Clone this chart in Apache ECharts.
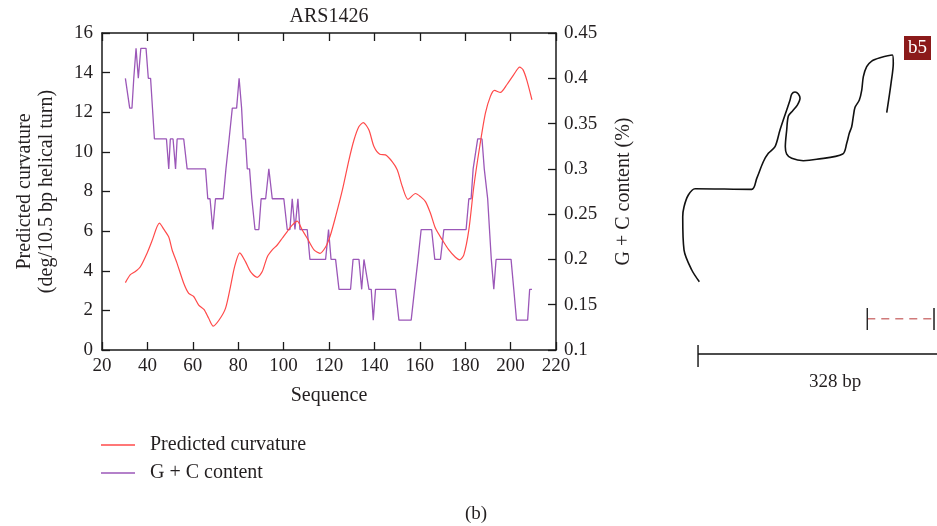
<!DOCTYPE html>
<html>
<head>
<meta charset="utf-8">
<script src="https://cdn.jsdelivr.net/npm/echarts@6/dist/echarts.min.js"></script>
<style>html,body{margin:0;padding:0;background:#fff}#c{width:937px;height:526px}</style>
</head>
<body>
<div id="c"></div>
<script>
// ---- Data ----
const chartTitle = 'ARS1426';
const xTicks = [20, 40, 60, 80, 100, 120, 140, 160, 180, 200, 220];
const curvTicks = [0, 2, 4, 6, 8, 10, 12, 14, 16];
const gcTicks = [0.1, 0.15, 0.2, 0.25, 0.3, 0.35, 0.4, 0.45];

// Predicted curvature (deg/10.5 bp helical turn)
const curvSeq = [30.3, 32.5, 34.7, 36.9, 39.9, 42.0, 45.3, 47.2, 49.4, 50.9, 53.0, 56.0, 58.2, 60.4, 62.6, 64.9, 67.0, 69.0, 71.5, 74.4, 76.6, 78.4, 80.7, 83.2, 85.4, 88.4, 90.6, 92.8, 95.0, 97.2, 99.4, 101.6, 103.8, 106.0, 108.2, 110.4, 113.4, 116.0, 118.5, 120.5, 122.9, 125.9, 128.8, 131.0, 133.2, 135.1, 137.6, 139.8, 142.4, 144.9, 147.9, 150.1, 152.3, 154.8, 158.1, 160.3, 162.5, 164.7, 166.9, 169.9, 172.8, 175.7, 177.6, 179.4, 181.6, 183.8, 186.4, 188.9, 191.1, 192.9, 195.5, 198.4, 201.4, 204.0, 205.5, 207.2, 209.4];
const curvVal = [3.4, 3.8, 3.96, 4.2, 4.9, 5.5, 6.4, 6.1, 5.7, 5.05, 4.4, 3.37, 2.86, 2.7, 2.27, 2.05, 1.6, 1.21, 1.5, 2.1, 3.2, 4.2, 4.9, 4.46, 3.96, 3.67, 3.96, 4.7, 5.05, 5.3, 5.64, 5.98, 6.3, 6.5, 6.06, 5.64, 5.05, 4.88, 5.2, 5.75, 6.73, 8.08, 9.6, 10.6, 11.28, 11.48, 11.1, 10.27, 9.88, 9.85, 9.5, 9.09, 8.25, 7.6, 7.9, 7.74, 7.49, 6.9, 6.14, 5.56, 5.05, 4.68, 4.55, 4.8, 6.06, 8.25, 10.27, 11.95, 12.8, 13.1, 13.0, 13.4, 13.9, 14.28, 14.14, 13.6, 12.63];

// G + C content (fraction)
const gcSeq = [30.3, 31.0, 32.2, 33.2, 34.0, 35.0, 36.0, 37.1, 39.4, 40.4, 41.4, 43.1, 48.4, 49.4, 50.1, 51.3, 52.4, 53.1, 56.0, 57.5, 65.6, 66.6, 67.6, 68.8, 70.0, 73.4, 74.6, 75.3, 76.0, 77.4, 79.3, 80.4, 81.5, 82.2, 83.2, 84.0, 85.0, 86.0, 87.4, 89.1, 90.1, 92.1, 93.5, 94.1, 95.0, 100.1, 101.6, 102.8, 103.8, 105.0, 106.3, 107.2, 110.4, 111.6, 118.5, 119.8, 120.9, 122.9, 124.4, 129.5, 130.6, 133.2, 134.4, 135.4, 136.1, 137.6, 138.6, 139.5, 140.5, 149.3, 150.8, 156.2, 157.7, 159.2, 160.6, 165.2, 166.6, 169.1, 170.6, 180.4, 181.6, 182.6, 183.5, 184.2, 185.5, 187.4, 188.4, 189.9, 190.7, 191.5, 192.6, 193.6, 200.2, 201.4, 202.6, 207.5, 208.4, 209.4];
const gcVal = [0.400, 0.400, 0.367, 0.367, 0.400, 0.433, 0.400, 0.433, 0.433, 0.400, 0.400, 0.333, 0.333, 0.300, 0.333, 0.333, 0.300, 0.333, 0.333, 0.300, 0.300, 0.267, 0.267, 0.233, 0.267, 0.267, 0.300, 0.300, 0.333, 0.367, 0.367, 0.400, 0.367, 0.333, 0.333, 0.300, 0.300, 0.267, 0.233, 0.233, 0.267, 0.267, 0.300, 0.300, 0.267, 0.267, 0.233, 0.233, 0.267, 0.233, 0.267, 0.233, 0.233, 0.200, 0.200, 0.233, 0.200, 0.200, 0.167, 0.167, 0.200, 0.200, 0.167, 0.200, 0.200, 0.167, 0.167, 0.133, 0.167, 0.167, 0.133, 0.133, 0.167, 0.200, 0.233, 0.233, 0.200, 0.200, 0.233, 0.233, 0.267, 0.267, 0.300, 0.300, 0.333, 0.333, 0.300, 0.267, 0.233, 0.200, 0.167, 0.200, 0.200, 0.167, 0.133, 0.133, 0.167, 0.167];

// Projected DNA path (b5), in bp units (scale bar = 328 bp)
const dnaX = [1.8, -8.6, -19.2, -21.0, -19.2, -13.3, -4.1, 73.7, 80.6, 89.6, 96.5, 105.7, 112.5, 121.7, 126.3, 128.6, 133.1, 137.7, 140.0, 136.3, 130.0, 124.0, 121.7, 119.8, 121.7, 128.6, 144.5, 162.9, 198.6, 204.1, 207.6, 210.9, 213.1, 215.5, 221.4, 224.7, 226.9, 231.5, 238.4, 249.8, 266.7, 268.0, 264.9, 259.0];
const dnaY = [99.2, 115.3, 142.7, 188.4, 202.2, 218.2, 226.9, 226.0, 241.1, 263.9, 275.4, 284.5, 307.4, 334.9, 348.6, 356.8, 359.6, 356.8, 350.9, 341.7, 333.9, 326.6, 307.4, 284.5, 274.5, 268.6, 265.3, 267.2, 274.5, 289.2, 302.9, 311.9, 325.7, 338.6, 348.6, 362.3, 380.6, 394.3, 402.1, 406.6, 410.4, 399.0, 371.5, 331.2];
const scaleBp = 328;
const dashedBar = [232.3, 323.9];
const panelLabel = 'b5';
const subLabel = '(b)';

// ---- Chart ----
const FONT = 'Liberation Serif';
const TXT = '#231f20';
const chart = echarts.init(document.getElementById('c'));
const zip = (a, b) => a.map((v, i) => [v, b[i]]);

const axisLine = { show: true, lineStyle: { color: '#1a1a1a', width: 1.5 } };
const axisTick = { show: true, inside: true, length: 8, lineStyle: { color: '#1a1a1a', width: 1.3 } };
const axisLabel = { fontFamily: FONT, fontSize: 19, color: TXT };

chart.setOption({
  animation: false,
  backgroundColor: '#fff',
  title: [
    { text: chartTitle, left: 324, top: 2, textAlign: 'center', textStyle: { fontFamily: FONT, fontSize: 20, fontWeight: 'normal', color: TXT } },
    { text: panelLabel, left: 904, top: 36, padding: [3, 4, 2, 4], backgroundColor: '#8b1a1a', textStyle: { fontFamily: FONT, fontSize: 19, fontWeight: 'normal', color: '#fff' } },
    { text: subLabel, left: 471, top: 500, textAlign: 'center', textStyle: { fontFamily: FONT, fontSize: 19, fontWeight: 'normal', color: TXT } },
    { text: scaleBp + ' bp', left: 830, top: 368, textAlign: 'center', textStyle: { fontFamily: FONT, fontSize: 19, fontWeight: 'normal', color: TXT } }
  ],
  legend: {
    data: ['Predicted curvature', 'G + C content'],
    orient: 'vertical', left: 96, top: 430, icon: 'rect', itemWidth: 34, itemHeight: 1.6, itemGap: 8,
    textStyle: { fontFamily: FONT, fontSize: 20, color: TXT, padding: [0, 0, 0, 10] }
  },
  grid: [
    { left: 102, right: 381, top: 33, bottom: 176 },
    { left: 660, top: 30, width: 277, height: 370 }
  ],
  xAxis: [
    { type: 'value', gridIndex: 0, min: 20, max: 220, interval: 20, name: 'Sequence', nameLocation: 'middle', nameGap: 36,
      nameTextStyle: { fontFamily: FONT, fontSize: 20, color: TXT },
      axisLine, axisTick, axisLabel: Object.assign({ margin: 7 }, axisLabel), splitLine: { show: false } },
    { type: 'value', gridIndex: 0, position: 'top', min: 20, max: 220, interval: 20,
      axisLine, axisTick, axisLabel: { show: false }, splitLine: { show: false } },
    { type: 'value', gridIndex: 1, min: -52.2, max: 328, show: false }
  ],
  yAxis: [
    { type: 'value', gridIndex: 0, min: 0, max: 16, interval: 2, position: 'left',
      name: 'Predicted curvature\n(deg/10.5 bp helical turn)', nameLocation: 'middle', nameRotate: 90, nameGap: 44,
      nameTextStyle: { fontFamily: FONT, fontSize: 20, color: TXT, lineHeight: 22 },
      axisLine, axisTick, axisLabel: Object.assign({ margin: 9 }, axisLabel), splitLine: { show: false } },
    { type: 'value', gridIndex: 0, min: 0.1, max: 0.45, interval: 0.05, position: 'right',
      name: 'G + C content (%)', nameLocation: 'middle', nameRotate: 90, nameGap: 58,
      nameTextStyle: { fontFamily: FONT, fontSize: 20, color: TXT },
      axisLine, axisTick, axisLabel: Object.assign({ margin: 8 }, axisLabel), splitLine: { show: false } },
    { type: 'value', gridIndex: 1, min: -63.1, max: 444.7, show: false }
  ],
  series: [
    { name: 'G + C content', type: 'line', xAxisIndex: 0, yAxisIndex: 1, data: zip(gcSeq, gcVal),
      symbol: 'none', lineStyle: { color: '#9b57b8', width: 1.3 }, itemStyle: { color: '#9b57b8' }, z: 2 },
    { name: 'Predicted curvature', type: 'line', xAxisIndex: 0, yAxisIndex: 0, data: zip(curvSeq, curvVal),
      symbol: 'none', smooth: 0.25, lineStyle: { color: '#ff4a4a', width: 1.2 }, itemStyle: { color: '#ff4a4a' }, z: 3 },
    { name: 'dna', type: 'line', xAxisIndex: 2, yAxisIndex: 2, data: zip(dnaX, dnaY), symbol: 'none', smooth: 0.3,
      lineStyle: { color: '#111', width: 1.6 }, clip: false, silent: true },
    { name: 'scale', type: 'line', xAxisIndex: 2, yAxisIndex: 2, data: [[0, 0], [scaleBp, 0]], symbol: 'none',
      lineStyle: { color: '#111', width: 1.4 }, clip: false, silent: true },
    { name: 'scaleTick', type: 'line', xAxisIndex: 2, yAxisIndex: 2, data: [[0, 12.3], [0, -17.8]], symbol: 'none',
      lineStyle: { color: '#111', width: 1.4 }, clip: false, silent: true },
    { name: 'dash', type: 'line', xAxisIndex: 2, yAxisIndex: 2, data: [[dashedBar[0], 48.4], [dashedBar[1], 48.4]], symbol: 'none',
      lineStyle: { color: '#d07a7a', width: 1.4, type: [8, 6] }, clip: false, silent: true },
    { name: 'dashTickL', type: 'line', xAxisIndex: 2, yAxisIndex: 2, data: [[dashedBar[0], 63.1], [dashedBar[0], 32.9]], symbol: 'none',
      lineStyle: { color: '#222', width: 1.4 }, clip: false, silent: true },
    { name: 'dashTickR', type: 'line', xAxisIndex: 2, yAxisIndex: 2, data: [[dashedBar[1], 63.1], [dashedBar[1], 32.9]], symbol: 'none',
      lineStyle: { color: '#444', width: 1.8 }, clip: false, silent: true }
  ]
});
</script>
</body>
</html>
